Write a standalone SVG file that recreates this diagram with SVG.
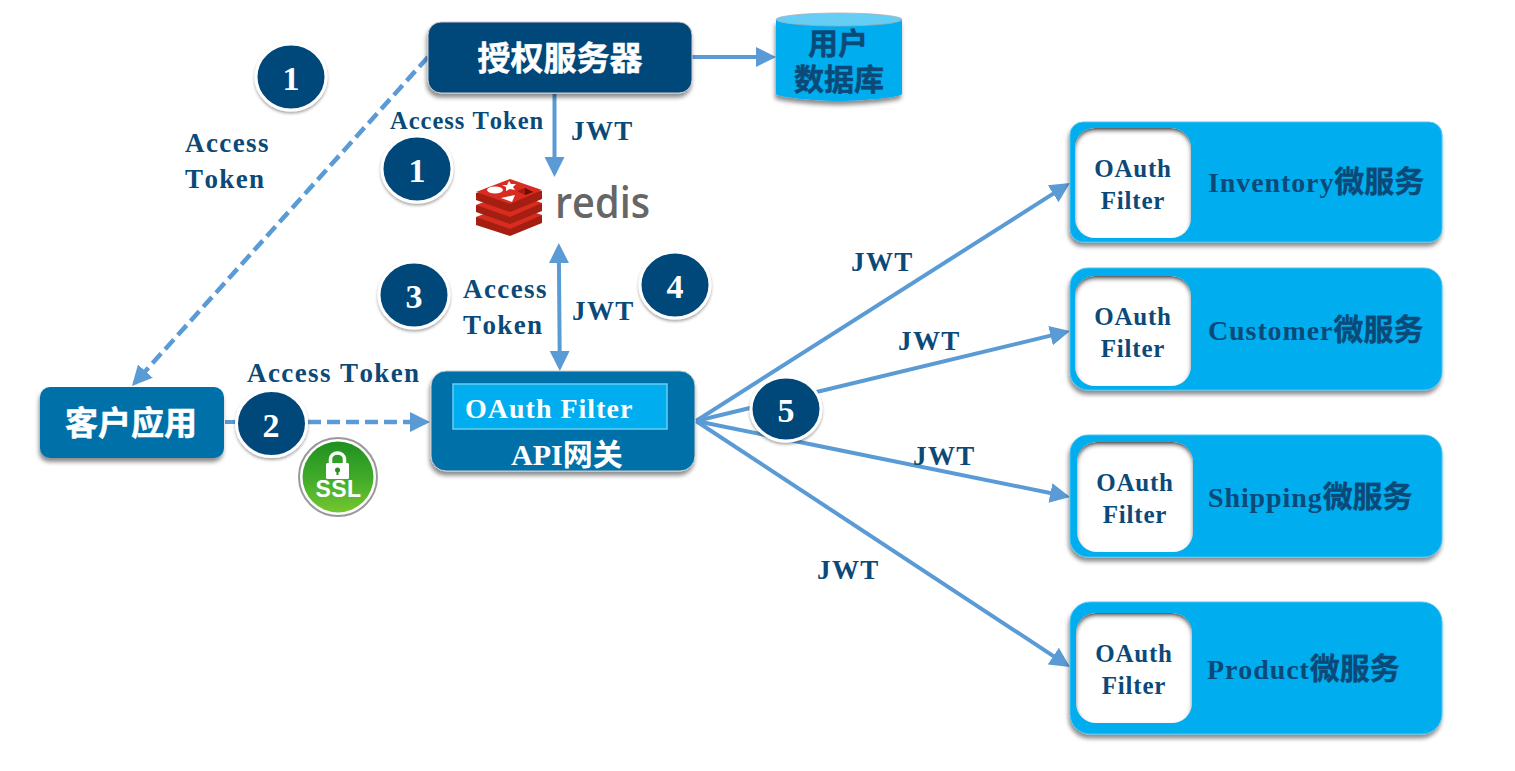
<svg xmlns="http://www.w3.org/2000/svg" width="1515" height="771" viewBox="0 0 1515 771">
<style>
.ser{font-family:"Liberation Serif","Noto Sans CJK SC",serif;font-weight:700;font-kerning:none}
.cjk{font-family:"Liberation Sans","Noto Sans CJK SC",sans-serif;font-weight:700;stroke-width:.5}
.navy{fill:#0b4a78}
.w{fill:#fff}
.lbl{font-size:27px;letter-spacing:1.4px}
.c{stroke:#5b9bd5;stroke-width:4;fill:none}
.d{stroke-dasharray:13 6;stroke-width:4.500}
.b{fill:#00aeef;stroke:#4fc3f0;stroke-width:1}
.in{fill:#fff}
.num{fill:#04477a;stroke:#fff;stroke-width:3}
.dig{font-size:34px}
.of{font-size:25px;letter-spacing:.8px}
.sv{font-size:28px;letter-spacing:.9px}
.sv tspan{font-size:30px;letter-spacing:0;stroke:#0b4a78;stroke-width:.4}
.mid{text-anchor:middle}
</style>
<defs>
<filter id="sh" x="-10%" y="-10%" width="120%" height="130%"><feDropShadow dx="-1" dy="4" stdDeviation="2" flood-color="#000" flood-opacity=".45"/></filter>
<filter id="sh2" x="-20%" y="-20%" width="140%" height="140%"><feDropShadow dx="0" dy="2" stdDeviation="1.500" flood-color="#000" flood-opacity=".35"/></filter>
<filter id="inset" x="-10%" y="-10%" width="120%" height="120%">
<feComponentTransfer in="SourceAlpha" result="inv"><feFuncA type="table" tableValues="1 0"/></feComponentTransfer>
<feOffset in="inv" dy="3" result="off"/>
<feGaussianBlur in="off" stdDeviation="2" result="bl"/>
<feFlood flood-color="#222" flood-opacity="1"/>
<feComposite in2="bl" operator="in" result="col"/>
<feComposite in="col" in2="SourceAlpha" operator="in" result="ins"/>
<feMerge><feMergeNode in="SourceGraphic"/><feMergeNode in="ins"/></feMerge>
</filter>
<marker id="a" markerUnits="userSpaceOnUse" markerWidth="22" markerHeight="22" refX="16" refY="11" orient="auto-start-reverse"><path d="M0 1L20 11L0 21Z" fill="#5b9bd5"/></marker>
<linearGradient id="ssl" x1="0" y1="0" x2="0" y2="1"><stop offset="0" stop-color="#1f8f1f"/><stop offset=".55" stop-color="#43ad2a"/><stop offset="1" stop-color="#75c62f"/></linearGradient>
</defs>

<g id="connectors">
<path class="c d" d="M428 57L134.700 383" marker-end="url(#a)"/>
<path class="c" d="M692 57H772" marker-end="url(#a)"/>
<path class="c" d="M554.500 94V173" marker-end="url(#a)"/>
<path class="c" d="M558.800 247L559.800 367" marker-start="url(#a)" marker-end="url(#a)"/>
<path class="c" d="M225 422H240"/>
<path class="c d" d="M308 422H426" marker-end="url(#a)"/>
<path class="c" d="M696 421L1066.600 185.100" marker-end="url(#a)"/>
<path class="c" d="M696 421L1066.100 331.900" marker-end="url(#a)"/>
<path class="c" d="M696 421L1066.100 496.200" marker-end="url(#a)"/>
<path class="c" d="M696 421L1066.700 664.800" marker-end="url(#a)"/>
</g>

<g id="auth-server">
<rect x="428" y="22" width="264" height="71" rx="13" fill="#04477a" stroke="#ccc" filter="url(#sh)"/>
<text class="cjk w mid" x="560" y="70" font-size="33" stroke="#fff">授权服务器</text>
</g>

<g id="user-db">
<path d="M776 20V94C776 97 815 101 839 101C863 101 902 97 902 94V20Z" fill="#00aeef" filter="url(#sh)"/>
<ellipse cx="839" cy="19.500" rx="63" ry="6.500" fill="#66cdf5" stroke="#aaa" stroke-width=".7"/>
<text class="cjk navy mid" x="838" y="54" font-size="30" stroke="#0b4a78">用户</text>
<text class="cjk navy mid" x="839" y="90" font-size="30" stroke="#0b4a78">数据库</text>
</g>

<g id="client">
<rect x="40" y="387" width="184" height="71" rx="10" fill="#026fa9" filter="url(#sh)"/>
<text class="cjk w mid" x="131" y="435" font-size="33" stroke="#fff">客户应用</text>
</g>

<g id="gateway">
<rect x="431" y="371" width="264" height="100" rx="15" fill="#026fa9" stroke="#ccc" filter="url(#sh)"/>
<rect x="453" y="384" width="214" height="45" fill="#00aeef" stroke="#66cdf5" stroke-width="1.500"/>
<text class="ser w" x="465" y="418" font-size="28" letter-spacing="1">OAuth Filter</text>
<text class="ser w" x="511" y="465" font-size="30">API网关</text>
</g>

<g id="redis">
<path d="M476 217V225L510 236L542 223V215Z" fill="#a41e11"/>
<path d="M476 217L510 204L542 215L510 229Z" fill="#d82c20"/>
<path d="M476 205V212L510 224L542 211V203Z" fill="#a41e11"/>
<path d="M476 205L510 192L542 203L510 217Z" fill="#d82c20"/>
<path d="M476 193V200L510 212L542 199V191Z" fill="#a41e11"/>
<path d="M476 192L510 179L542 190L510 204Z" fill="#d82c20"/>
<ellipse cx="495" cy="190" rx="8" ry="3.500" fill="#fff"/>
<path d="M509 181L511 184L516 184L513 187L515 190L510 189L506 191L506 187L502 185L507 185Z" fill="#fff"/>
<path d="M501 198L515 195L512 202Z" fill="#fff"/>
<path d="M517 191L525 188L533 192L525 195Z" fill="#a01c10"/>
<path d="M525 188L533 192L525 195Z" fill="#6e0a00"/>
<text x="555" y="218" font-family="'Open Sans','Liberation Sans',sans-serif" font-weight="600" font-size="43" fill="#666" textLength="95" lengthAdjust="spacingAndGlyphs">redis</text>
</g>

<g id="ssl">
<circle cx="338" cy="477" r="39" fill="#fff" stroke="#999" stroke-width="2"/>
<circle cx="338" cy="477" r="35.500" fill="url(#ssl)"/>
<rect x="326" y="463" width="23" height="16" rx="1.500" fill="#fff"/>
<path d="M330.500 463V459A7 6 0 0 1 344.500 459V463" fill="none" stroke="#fff" stroke-width="3.500"/>
<circle cx="337.500" cy="470" r="2.500" fill="#2b8f1f"/>
<path d="M336.500 470h2v5h-2z" fill="#2b8f1f"/>
<text class="w mid" x="338.500" y="497" font-size="23" font-weight="700" letter-spacing=".5" font-family="'Liberation Sans',sans-serif">SSL</text>
</g>

<g id="svc-inventory">
<rect x="1070" y="122" width="372" height="120" rx="13" class="b" filter="url(#sh)"/>
<rect x="1075" y="128" width="116" height="110" rx="20" class="in" filter="url(#inset)"/>
<text class="ser navy mid of" x="1133" y="177">OAuth</text>
<text class="ser navy mid of" x="1133" y="209">Filter</text>
<text class="ser navy sv" x="1208" y="192">Inventory<tspan>微服务</tspan></text>
</g>
<g id="svc-customer">
<rect x="1070" y="268" width="372" height="122" rx="18" class="b" filter="url(#sh)"/>
<rect x="1075" y="276" width="116" height="110" rx="20" class="in" filter="url(#inset)"/>
<text class="ser navy mid of" x="1133" y="325">OAuth</text>
<text class="ser navy mid of" x="1133" y="357">Filter</text>
<text class="ser navy sv" x="1208" y="340">Customer<tspan>微服务</tspan></text>
</g>
<g id="svc-shipping">
<rect x="1070" y="435" width="372" height="122" rx="18" class="b" filter="url(#sh)"/>
<rect x="1077" y="442" width="116" height="110" rx="20" class="in" filter="url(#inset)"/>
<text class="ser navy mid of" x="1135" y="491">OAuth</text>
<text class="ser navy mid of" x="1135" y="523">Filter</text>
<text class="ser navy sv" x="1208" y="507">Shipping<tspan>微服务</tspan></text>
</g>
<g id="svc-product">
<rect x="1070" y="602" width="372" height="132" rx="20" class="b" filter="url(#sh)"/>
<rect x="1076" y="613" width="116" height="110" rx="20" class="in" filter="url(#inset)"/>
<text class="ser navy mid of" x="1134" y="662">OAuth</text>
<text class="ser navy mid of" x="1134" y="694">Filter</text>
<text class="ser navy sv" x="1207" y="679">Product<tspan>微服务</tspan></text>
</g>

<g id="badge-1a"><ellipse class="num" cx="291" cy="77" rx="35" ry="33" filter="url(#sh2)"/><text class="ser w mid dig" x="291" y="90">1</text></g>
<g id="badge-1b"><ellipse class="num" cx="417" cy="169" rx="35" ry="33" filter="url(#sh2)"/><text class="ser w mid dig" x="417" y="182">1</text></g>
<g id="badge-3"><ellipse class="num" cx="414" cy="295" rx="35" ry="33" filter="url(#sh2)"/><text class="ser w mid dig" x="414" y="308">3</text></g>
<g id="badge-4"><ellipse class="num" cx="675" cy="285" rx="35" ry="33" filter="url(#sh2)"/><text class="ser w mid dig" x="675" y="298">4</text></g>
<g id="badge-2"><ellipse class="num" cx="271.500" cy="423.500" rx="35" ry="33" filter="url(#sh2)"/><text class="ser w mid dig" x="271" y="437">2</text></g>
<g id="badge-5"><ellipse class="num" cx="786" cy="409" rx="35" ry="32" filter="url(#sh2)"/><text class="ser w mid dig" x="786" y="422">5</text></g>

<g id="labels" class="ser navy lbl">
<text x="185" y="152">Access</text>
<text x="185" y="188">Token</text>
<text x="390" y="129" style="font-size:24.500px;letter-spacing:1px">Access Token</text>
<text x="571" y="140">JWT</text>
<text x="463" y="298">Access</text>
<text x="463" y="334">Token</text>
<text x="572" y="320">JWT</text>
<text x="247" y="382">Access Token</text>
<text x="851" y="271">JWT</text>
<text x="898" y="350">JWT</text>
<text x="913" y="465">JWT</text>
<text x="817" y="579">JWT</text>
</g>
</svg>
